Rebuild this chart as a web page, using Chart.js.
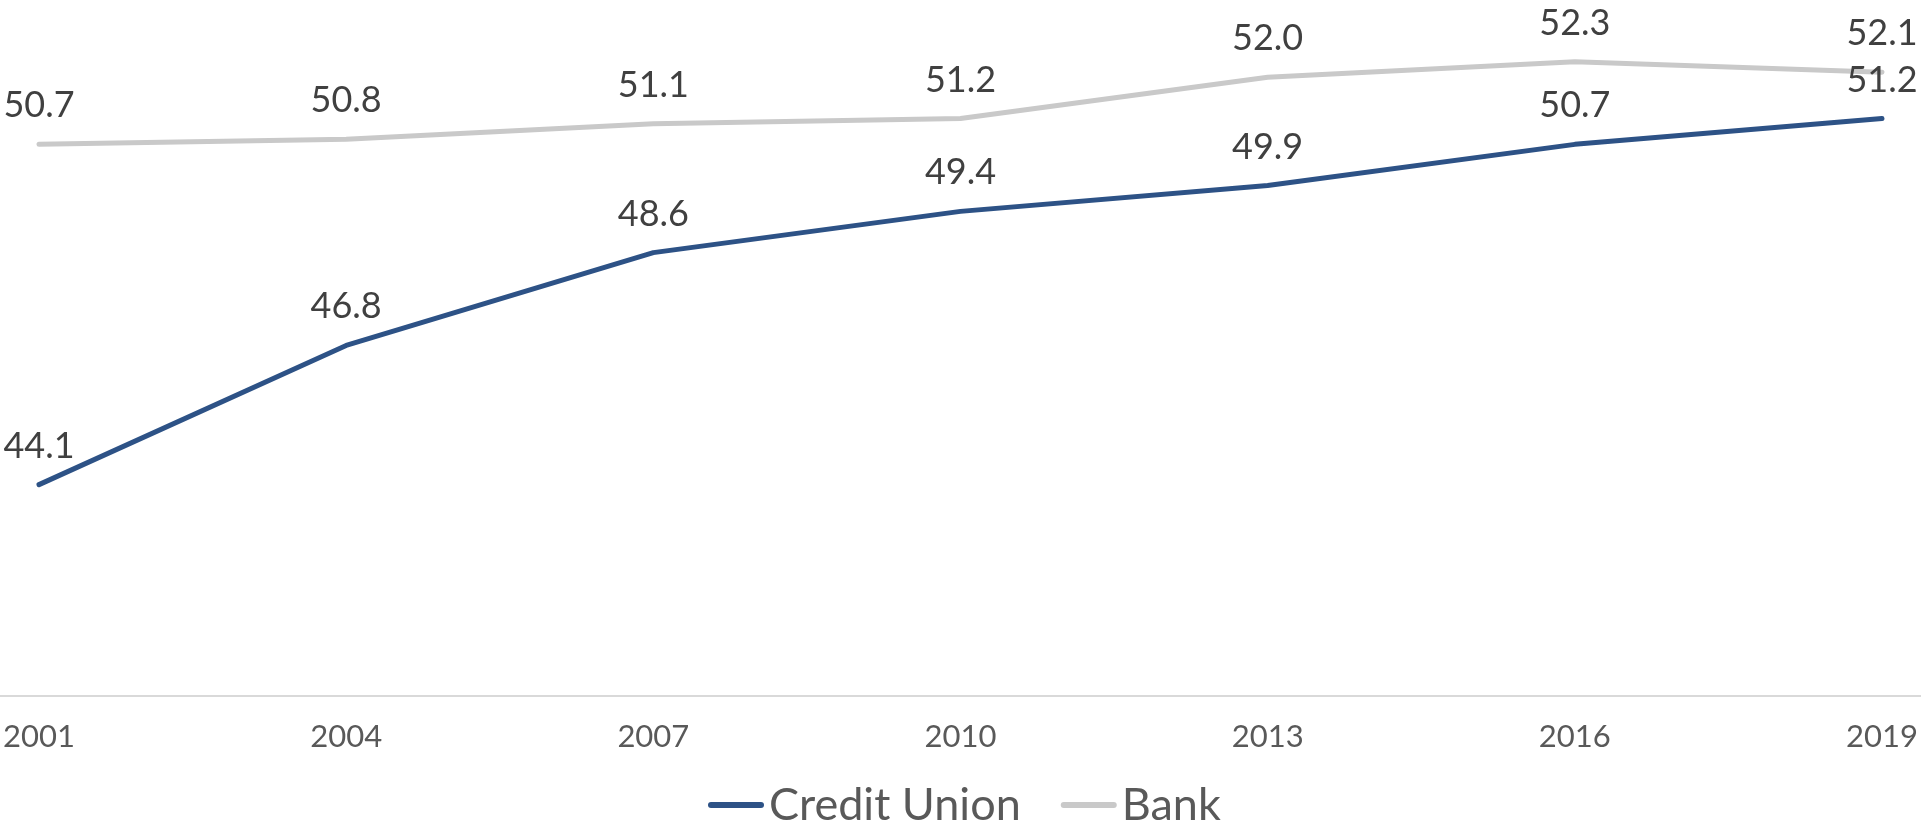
<!DOCTYPE html>
<html>
<head>
<meta charset="utf-8">
<script src="https://cdn.jsdelivr.net/npm/chart.js@4.4.1/dist/chart.umd.min.js"></script>
<style>
  html, body { margin: 0; padding: 0; background: #ffffff; }
  #wrap { width: 1921px; height: 822px; }
</style>
</head>
<body>
<div id="wrap"><canvas id="c" width="1921" height="822"></canvas></div>
<script>
const years = [2001, 2004, 2007, 2010, 2013, 2016, 2019];
const creditUnion = [44.1, 46.8, 48.6, 49.4, 49.9, 50.7, 51.2];
const bank = [50.7, 50.8, 51.1, 51.2, 52.0, 52.3, 52.1];
const seriesNames = ['Credit Union', 'Bank'];

const FONT = 'Lato, "Open Sans", "DejaVu Sans", sans-serif';

const dataLabels = {
  id: 'dataLabels',
  afterDatasetsDraw(chart) {
    const ctx = chart.ctx;
    ctx.save();
    ctx.font = '36px ' + FONT;
    ctx.fillStyle = '#404040';
    ctx.textAlign = 'center';
    ctx.textBaseline = 'alphabetic';
    chart.data.datasets.forEach((ds, i) => {
      const meta = chart.getDatasetMeta(i);
      meta.data.forEach((pt, j) => {
        ctx.fillText(ds.data[j].y.toFixed(1), pt.x, pt.y - 27);
      });
    });
    ctx.restore();
  }
};

const customLegend = {
  id: 'customLegend',
  afterDraw(chart) {
    const ctx = chart.ctx;
    ctx.save();
    ctx.font = '45px ' + FONT;
    let x = 708;
    const lineY = 805;
    const baseY = 820;
    chart.data.datasets.forEach((ds) => {
      ctx.strokeStyle = ds.borderColor;
      ctx.lineWidth = 6;
      ctx.lineCap = 'round';
      ctx.beginPath();
      ctx.moveTo(x + 3, lineY);
      ctx.lineTo(x + 53, lineY);
      ctx.stroke();
      const tx = x + 61;
      const w = ctx.measureText(ds.label).width;
      ctx.fillStyle = '#595959';
      ctx.textAlign = 'left';
      ctx.textBaseline = 'alphabetic';
      ctx.fillText(ds.label, tx, baseY);
      x = tx + w + 40;
    });
    ctx.restore();
  }
};

const toPoints = (arr) => years.map((yr, i) => ({ x: yr, y: arr[i] }));

new Chart(document.getElementById('c'), {
  type: 'line',
  data: {
    datasets: [
      {
        label: seriesNames[0],
        data: toPoints(creditUnion),
        borderColor: '#2D5286',
        backgroundColor: '#2D5286',
        borderWidth: 5,
        tension: 0,
        pointRadius: 0,
        borderCapStyle: 'round',
        borderJoinStyle: 'round'
      },
      {
        label: seriesNames[1],
        data: toPoints(bank),
        borderColor: '#C9C9C9',
        backgroundColor: '#C9C9C9',
        borderWidth: 5,
        tension: 0,
        pointRadius: 0,
        borderCapStyle: 'round',
        borderJoinStyle: 'round'
      }
    ]
  },
  options: {
    responsive: false,
    devicePixelRatio: 1,
    animation: false,
    events: [],
    layout: { padding: { top: 0, left: 0, right: 0, bottom: 68 } },
    plugins: {
      legend: { display: false },
      tooltip: { enabled: false },
      title: { display: false }
    },
    scales: {
      x: {
        type: 'linear',
        min: 2000.619,
        max: 2019.381,
        afterBuildTicks(scale) {
          scale.ticks = years.map(v => ({ value: v }));
        },
        afterFit(scale) {
          scale.height = 58;
          scale.paddingLeft = 0;
          scale.paddingRight = 0;
        },
        grid: { display: false, drawTicks: false },
        border: { display: true, color: '#D9D9D9', width: 2 },
        ticks: {
          autoSkip: false,
          maxRotation: 0,
          padding: 22,
          color: '#595959',
          font: { family: FONT, size: 31 },
          callback: (v) => String(v)
        }
      },
      y: {
        display: false,
        min: 40,
        max: 53.5
      }
    }
  },
  plugins: [dataLabels, customLegend]
});
</script>
</body>
</html>
